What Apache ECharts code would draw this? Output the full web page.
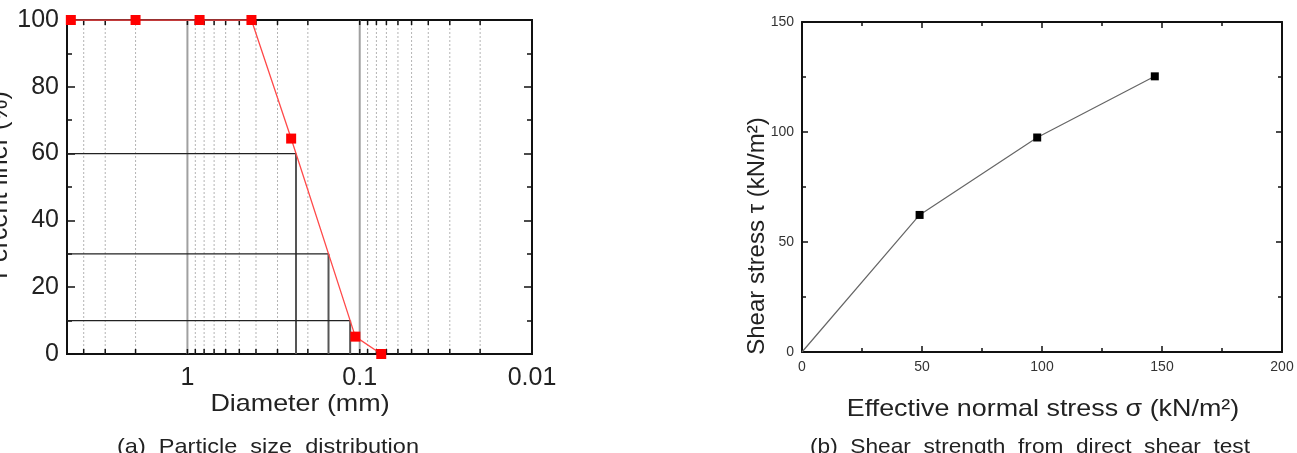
<!DOCTYPE html>
<html>
<head>
<meta charset="utf-8">
<script src="https://cdn.jsdelivr.net/npm/echarts@6.0.0/dist/echarts.min.js"></script>
<style>
    html, body { margin: 0; padding: 0; background: #fff; }
    #chart { width: 1297px; height: 453px; }
</style>
</head>
<body>
<div id="chart"></div>
<script>
// (a) sieve analysis
var diameters = [4.75, 2.0, 0.85, 0.425, 0.25, 0.106, 0.075];
var percentFiner = [100, 100, 100, 100, 64.5, 5.2, 0];
var dLevels = [60, 30, 10]; // D60, D30, D10 guide lines
var gridDiameters = [4, 3, 2, 1, 0.9, 0.8, 0.7, 0.6, 0.5, 0.4, 0.3, 0.2,
    0.1, 0.09, 0.08, 0.07, 0.06, 0.05, 0.04, 0.03, 0.02];
var decadeLabels = ['1', '0.1', '0.01'];

// (b) direct shear test
var normalStress = [0, 49, 98, 147];
var shearStress = [0, 62.3, 97.5, 125.3];

var FONT = '"Liberation Sans", Arial, sans-serif';
var chart = echarts.init(document.getElementById('chart'));

function isDecade(v) {
    var l = Math.log10(v);
    return Math.abs(l - Math.round(l)) < 1e-6;
}

// diameter where the curve crosses a given percent (log interpolation)
function diameterAt(p) {
    for (var i = 0; i < diameters.length - 1; i++) {
        var a = percentFiner[i], b = percentFiner[i + 1];
        if ((a - p) * (b - p) <= 0 && a !== b) {
            var f = (a - p) / (a - b);
            var la = Math.log10(diameters[i]), lb = Math.log10(diameters[i + 1]);
            return Math.pow(10, la + f * (lb - la));
        }
    }
    return null;
}

var series = [];

// vertical grid lines + small ticks on top/bottom
series.push({
    type: 'custom',
    xAxisIndex: 0, yAxisIndex: 0,
    z: 1,
    silent: true,
    encode: {x: 0, y: 1},
    data: gridDiameters.map(function (d) { return [d, 0]; }),
    renderItem: function (params, api) {
        var v = api.value(0);
        var b = api.coord([v, 0]);
        var t = api.coord([v, 100]);
        var dec = isDecade(v);
        return {
            type: 'group',
            children: [
                {type: 'line', shape: {x1: b[0], y1: b[1], x2: t[0], y2: t[1]},
                    style: {stroke: dec ? '#a0a0a0' : '#b4b4b4', lineWidth: dec ? 2 : 1, lineDash: dec ? null : [2, 2]}},
                {type: 'line', shape: {x1: b[0], y1: b[1], x2: b[0], y2: b[1] - 5},
                    style: {stroke: '#111', lineWidth: 1.5}},
                {type: 'line', shape: {x1: t[0], y1: t[1], x2: t[0], y2: t[1] + 5},
                    style: {stroke: '#111', lineWidth: 1.5}}
            ]
        };
    }
});

// D60 / D30 / D10 lines
dLevels.forEach(function (p) {
    var d = diameterAt(p);
    series.push({
        type: 'line', xAxisIndex: 0, yAxisIndex: 0, z: 2, silent: true,
        symbol: 'none', animation: false,
        lineStyle: {color: '#222', width: 1.2},
        data: [[5, p], [d, p]]
    });
    series.push({
        type: 'line', xAxisIndex: 0, yAxisIndex: 0, z: 2, silent: true,
        symbol: 'none', animation: false,
        lineStyle: {color: '#555', width: 2},
        data: [[d, p], [d, 0]]
    });
});

// gradation curve
series.push({
    type: 'line', xAxisIndex: 0, yAxisIndex: 0, z: 4,
    symbol: 'rect', symbolSize: 10,
    itemStyle: {color: '#ff0000'},
    lineStyle: {color: '#ff4a4a', width: 1.3},
    animation: false,
    data: diameters.map(function (d, i) { return [d, percentFiner[i]]; })
});

// shear test
series.push({
    type: 'line', xAxisIndex: 1, yAxisIndex: 2, z: 4,
    symbol: 'rect', symbolSize: 8,
    itemStyle: {color: '#000'},
    lineStyle: {color: '#666', width: 1.2},
    animation: false,
    data: normalStress.map(function (s, i) {
        var item = {value: [s, shearStress[i]]};
        if (i === 0) item.symbol = 'none';
        return item;
    })
});

function bigY(position, showLabel) {
    return {
        type: 'value', gridIndex: 0, position: position,
        min: 0, max: 100, interval: 20,
        axisLine: {show: true, lineStyle: {color: '#111', width: 2}},
        axisTick: {show: true, inside: true, length: 8, lineStyle: {color: '#111', width: 1.5}},
        minorTick: {show: true, splitNumber: 2, length: 5, lineStyle: {color: '#111', width: 1.5}},
        axisLabel: {show: showLabel, color: '#222', fontSize: 25, fontFamily: FONT, margin: 8},
        splitLine: {show: false}
    };
}

function smallX(position, showLabel) {
    return {
        type: 'value', gridIndex: 1, position: position,
        min: 0, max: 200, interval: 50,
        axisLine: {show: true, onZero: false, lineStyle: {color: '#111', width: 2}},
        axisTick: {show: true, inside: true, length: 6, lineStyle: {color: '#111', width: 1.5}},
        minorTick: {show: true, splitNumber: 2, length: 4, lineStyle: {color: '#111', width: 1.5}},
        axisLabel: {show: showLabel, color: '#333', fontSize: 14, fontFamily: FONT, margin: 8},
        splitLine: {show: false}
    };
}

function smallY(position, showLabel) {
    return {
        type: 'value', gridIndex: 1, position: position,
        min: 0, max: 150, interval: 50,
        axisLine: {show: true, onZero: false, lineStyle: {color: '#111', width: 2}},
        axisTick: {show: true, inside: true, length: 6, lineStyle: {color: '#111', width: 1.5}},
        minorTick: {show: true, splitNumber: 2, length: 4, lineStyle: {color: '#111', width: 1.5}},
        axisLabel: {show: showLabel, color: '#333', fontSize: 14, fontFamily: FONT, margin: 8},
        splitLine: {show: false}
    };
}

function textEl(str, x, y, size, opts) {
    opts = opts || {};
    return {
        type: 'text', x: x, y: y,
        rotation: opts.rotation || 0,
        scaleX: opts.scaleX || 1,
        silent: true,
        style: {
            text: str, x: 0, y: 0,
            fontSize: size, fontFamily: FONT, fill: opts.color || '#222',
            align: 'center', verticalAlign: 'middle',
            textAlign: 'center', textVerticalAlign: 'middle'
        }
    };
}

var option = {
    backgroundColor: '#fff',
    animation: false,
    grid: [
        {left: 67, top: 20, width: 465, height: 334, show: true, borderColor: '#111', borderWidth: 2},
        {left: 802, top: 22, width: 480, height: 330, show: false}
    ],
    xAxis: [
        {
            type: 'log', gridIndex: 0, logBase: 10,
            min: 0.01, max: 5, inverse: true,
            axisLine: {show: true, onZero: false, lineStyle: {color: '#111', width: 2}},
            axisTick: {show: false},
            splitLine: {show: false},
            axisLabel: {
                color: '#222', fontSize: 25, fontFamily: FONT, margin: 12,
                showMinLabel: true, showMaxLabel: true,
                formatter: function (v) {
                    if (!isDecade(v) || v > 1.0001) return '';
                    var k = Math.round(-Math.log10(v));
                    return decadeLabels[k] || '';
                }
            }
        },
        smallX('bottom', true),
        smallX('top', false)
    ],
    yAxis: [
        bigY('left', true),
        bigY('right', false),
        smallY('left', true),
        smallY('right', false)
    ],
    graphic: [
        textEl('Percent finer (%)', 0, 185, 25, {rotation: Math.PI / 2, scaleX: 1}),
        textEl('Diameter (mm)', 300, 404, 24, {scaleX: 1.12}),
        textEl('(a)  Particle  size  distribution', 268, 447, 21, {scaleX: 1.12}),
        textEl('Shear stress \u03c4 (kN/m\u00b2)', 757, 236, 24, {rotation: Math.PI / 2}),
        textEl('Effective normal stress \u03c3 (kN/m\u00b2)', 1043, 409, 24, {scaleX: 1.12}),
        textEl('(b)  Shear  strength  from  direct  shear  test', 1030, 447, 21, {scaleX: 1.08})
    ],
    series: series
};

chart.setOption(option);
</script>
</body>
</html>
